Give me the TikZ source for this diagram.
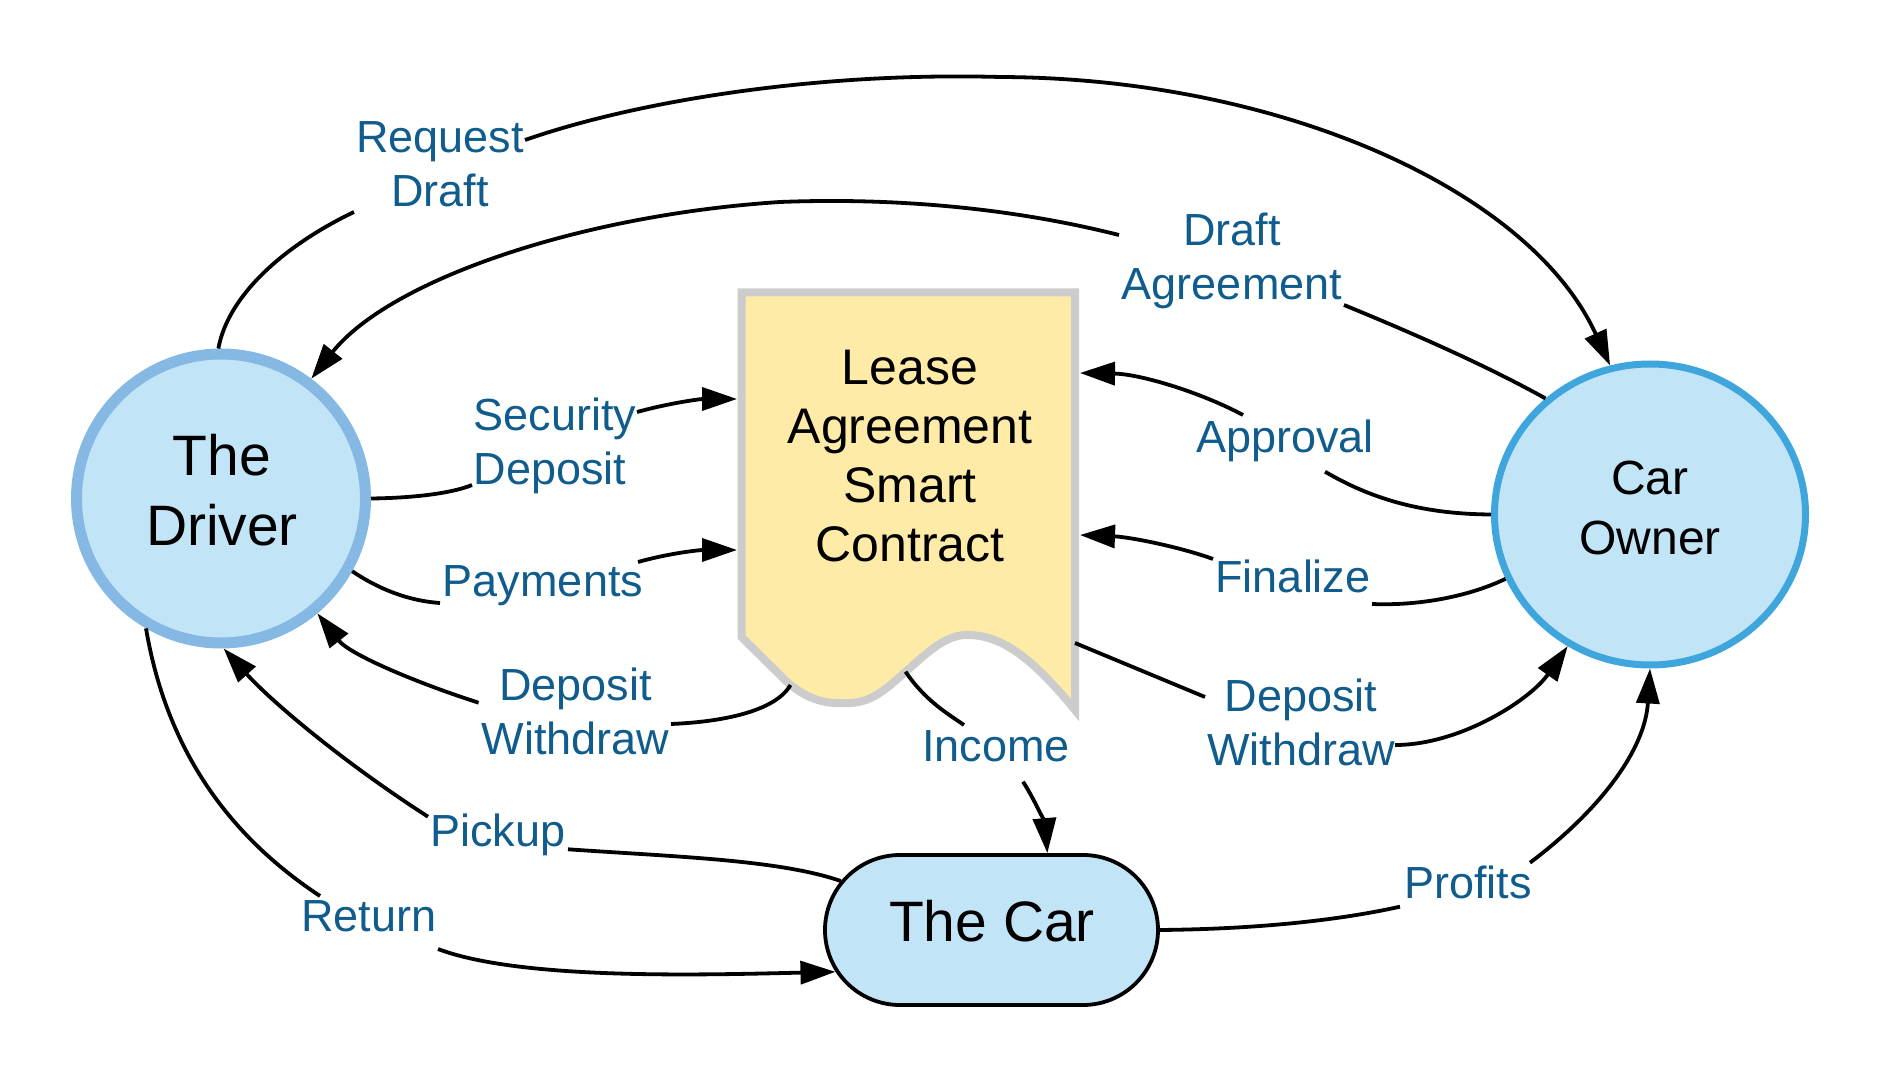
\documentclass[tikz,border=0pt]{standalone}
\usepackage{fontspec}
\setmainfont{Liberation Sans}
\usetikzlibrary{arrows.meta,shapes.geometric,shapes.misc}
\definecolor{lblblue}{RGB}{16,92,140}
\definecolor{nodefill}{RGB}{194,228,247}
\definecolor{drvline}{RGB}{133,184,226}
\definecolor{ownline}{RGB}{63,166,221}
\definecolor{docfill}{RGB}{255,235,168}
\definecolor{docline}{RGB}{204,204,204}
\begin{document}
\begin{tikzpicture}[x=0.5pt,y=-0.5pt,
  conn/.style={line width=1.9pt, draw=black},
  arr/.style={conn, -{Triangle[length=17.5pt,width=11.5pt]}},
  lbl/.style={font=\fontsize{22.5}{27}\selectfont, text=lblblue, align=center, inner sep=0pt},
  bigtext/.style={font=\fontsize{28.5}{35}\selectfont, align=center, inner sep=0pt},
  ownertext/.style={font=\fontsize{24}{30}\selectfont, align=center, inner sep=0pt},
  doctext/.style={font=\fontsize{25}{29.65}\selectfont, align=center, inner sep=0pt},
  drivernode/.style={circle, fill=nodefill, draw=drvline, line width=5.5pt, minimum size=144.5pt, inner sep=0pt},
  ownernode/.style={ellipse, fill=nodefill, draw=ownline, line width=3.5pt, minimum width=155.5pt, minimum height=150.5pt, inner sep=0pt},
  carnode/.style={rounded rectangle, fill=nodefill, draw=black, line width=1.9pt, minimum width=166.5pt, minimum height=75pt, inner sep=0pt}
]
\useasboundingbox (0,0) rectangle (1881,1080);

% contract document shape
\draw[fill=docfill, draw=docline, line width=4pt, line join=miter]
  (741.5,292.5) -- (1075,292.5) -- (1075,710)
  .. controls (1030,655) and (1000,635) .. (967,635)
  .. controls (950,635) and (935,645) .. (910,668)
  .. controls (890,685) and (875,702) .. (850,703)
  .. controls (830,704) and (810,703) .. (785,680)
  -- (741.5,637) -- cycle;
\node[doctext] (contract) at (910,456) {Lease\\Agreement\\Smart\\Contract};

\coordinate (ct-sd) at (737,399);
\coordinate (ct-pay) at (737,550);
\coordinate (ct-app) at (1080,373);
\coordinate (ct-fin) at (1080,535);
\coordinate (ct-dwl) at (790.5,685);
\coordinate (ct-inc) at (905.5,671.7);
\coordinate (ct-dwr) at (1075,643);

% main nodes
\node[drivernode] (driver) at (221,498.5) {};
\node[bigtext] (driver-t) at (222,490) {The\\Driver};
\node[ownernode] (owner) at (1650,514.5) {};
\node[ownertext] (owner-t) at (1650,508) {Car\\Owner};
\node[carnode] (car) at (991.5,930) {};
\node[bigtext] (car-t) at (992,921) {The Car};

% connectors
\draw[arr] (driver.91) .. controls (228,295) and (285,245) .. (354,212)
  (525,140) .. controls (640,100) and (820,72) .. (1000,77)
  .. controls (1280,78) and (1530,190) .. (owner.105.8);
\draw[arr] (owner.132.2) .. controls (1480,362) and (1400,328) .. (1344,305)
  (1119,235) .. controls (1000,205) and (880,198) .. (780,202)
  .. controls (580,215) and (390,280) .. (driver.53.5);
\draw[arr] (driver.0) .. controls (410,498) and (450,494) .. (472,485)
  (637,412) .. controls (670,403) and (700,399) .. (ct-sd);
\draw[arr] (driver.-29.6) .. controls (380,590) and (410,601) .. (440,603)
  (638,562) .. controls (670,553) and (700,550) .. (ct-pay);
\draw[arr] (ct-dwl) .. controls (775,712) and (720,722) .. (671,724)
  (478.6,702.7) .. controls (420,684) and (350,655) .. (driver.-50.5);
\draw[arr] (owner.180) .. controls (1420,514) and (1370,498) .. (1325,471.7)
  (1243,415) .. controls (1200,392) and (1140,374) .. (ct-app);
\draw[arr] (owner.204.6) .. controls (1470,596) and (1420,606) .. (1372,604)
  (1213,559) .. controls (1180,547) and (1130,537) .. (ct-fin);
\draw[arr] (ct-dwr) -- (1205,697)
  (1395,745) .. controls (1460,745) and (1530,700) .. (owner.238.1);
\draw[arr] (ct-inc) .. controls (925,700) and (945,712) .. (964,725)
  (1023,781.7) .. controls (1035,800) and (1045,825) .. (car.54.6);
\draw[arr] (car.east) .. controls (1260,929) and (1340,920) .. (1400,906.7)
  (1530,862.7) .. controls (1600,810) and (1645,750) .. (owner.270);
\draw[arr] (car.162.2) .. controls (780,860) and (680,857) .. (568,849.3)
  (428,816.7) .. controls (340,760) and (270,700) .. (driver.-89.6);
\draw[arr] (driver.-120) .. controls (165,740) and (220,830) .. (320,896)
  (438,949) .. controls (520,980) and (700,975) .. (car.195);

% labels
\node[lbl] (l-req) at (440,163.8) {Request\\Draft};
\node[lbl] (l-dra) at (1232,261) {Draft\\Agreement};
\node[lbl, align=left] (l-sec) at (555,446) {Security\\Deposit};
\node[lbl] (l-pay) at (543,585.5) {Payments};
\node[lbl] (l-dwl) at (575.5,711.5) {Deposit\\Withdraw};
\node[lbl] (l-app) at (1285,441.2) {Approval};
\node[lbl] (l-fin) at (1293,576.6) {Finalize};
\node[lbl] (l-dwr) at (1301,722.7) {Deposit\\Withdraw};
\node[lbl] (l-inc) at (996,745.8) {Income};
\node[lbl] (l-pro) at (1468,882) {Profits};
\node[lbl] (l-pic) at (498,835.2) {Pickup};
\node[lbl] (l-ret) at (369,915.8) {Return};
\end{tikzpicture}
\end{document}
